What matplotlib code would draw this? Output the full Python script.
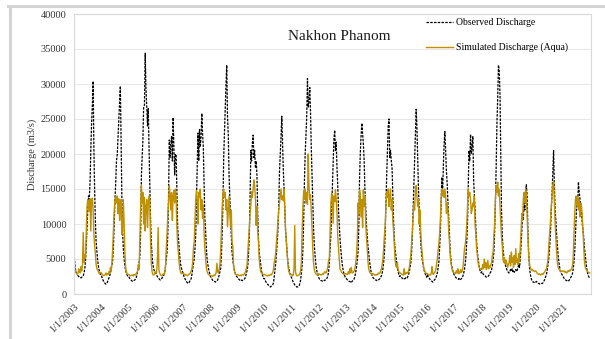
import datetime as dt
import matplotlib
matplotlib.use("Agg")
import matplotlib.pyplot as plt
from matplotlib.lines import Line2D

plt.rcParams['font.family'] = ['Liberation Serif', 'DejaVu Serif']

# Discharge at Nakhon Phanom (m3/s), one value per 10-day period (36 per year)
years = list(range(2003, 2022))

obs_by_year = [
    # 2003
    [5300, 4000, 3300, 3000, 2800, 2600, 2500, 2400, 2400, 2300, 2400, 2500,
     2600, 3000, 3500, 4800, 7000, 9400, 12000, 14000, 13500, 16000, 20500, 24300,
     27000, 30400, 21000, 15000, 10500, 7500, 6000, 4800, 4000, 3400, 3000, 2700],
    # 2004
    [2600, 2300, 2000, 1800, 1600, 1500, 1400, 1500, 1700, 2000, 2300, 2600,
     3000, 3600, 4200, 5000, 7000, 10500, 13500, 16000, 19000, 20000, 22500, 24800,
     27500, 29700, 22000, 14000, 9000, 6500, 5000, 4000, 3400, 3000, 2700, 2500],
    # 2005
    [2500, 2300, 2100, 2000, 1900, 1800, 1800, 1900, 2000, 2100, 2300, 2700,
     3300, 3800, 4500, 5500, 9000, 17000, 19500, 22000, 26700, 27000, 34400, 29500,
     26500, 24000, 26500, 21000, 16000, 11000, 7500, 5500, 4300, 3700, 3300, 3000],
    # 2006
    [3000, 2700, 2500, 2300, 2200, 2100, 2000, 2100, 2200, 2400, 2500, 2800,
     3200, 3900, 5000, 6000, 8600, 14000, 22000, 19500, 21500, 22500, 19000, 25200,
     21000, 17000, 20000, 19800, 15000, 9500, 8000, 6500, 5000, 4200, 3700, 3300],
    # 2007
    [3000, 2600, 2300, 2100, 1900, 1700, 1600, 1500, 1600, 1800, 2000, 2200,
     2800, 3600, 4300, 5000, 6500, 8500, 13300, 18000, 23000, 19000, 23500, 21000,
     22500, 25800, 23000, 21000, 16000, 11000, 9000, 6500, 5000, 4200, 3600, 3100],
    # 2008
    [2600, 2400, 2200, 2000, 1900, 1800, 1800, 1700, 1800, 1900, 2000, 2300,
     2700, 3200, 3600, 5700, 9000, 13000, 19500, 23000, 26600, 30000, 32700, 25500,
     22600, 17000, 14000, 11000, 8500, 6000, 4800, 4000, 3500, 3000, 2700, 2500],
    # 2009
    [2400, 2200, 2100, 2000, 1900, 1900, 2000, 1900, 2000, 2100, 2200, 2500,
     2900, 3400, 4000, 6000, 8600, 14000, 20500, 19000, 21500, 22700, 19500, 20500,
     18000, 19000, 17000, 11500, 8000, 6000, 5000, 4000, 3300, 2800, 2500, 2200],
    # 2010
    [2200, 1900, 1700, 1500, 1400, 1300, 1200, 1100, 1000, 1100, 1200, 1300,
     1600, 2400, 3500, 4500, 6000, 7500, 9400, 12500, 17500, 20000, 22500, 25400,
     21200, 17500, 15000, 12000, 9000, 7500, 6000, 4500, 3800, 3200, 2800, 2500],
    # 2011
    [2300, 2000, 1700, 1500, 1300, 1200, 1100, 1000, 1000, 1100, 1200, 1500,
     2000, 3000, 4000, 6500, 10500, 16000, 20000, 22700, 25000, 30800, 26700, 27500,
     29500, 26000, 21000, 17000, 13000, 9500, 7000, 5500, 4300, 3500, 3000, 2600],
    # 2012
    [2300, 2100, 2000, 1900, 1900, 1800, 1800, 1900, 2000, 2000, 2100, 2300,
     2600, 3200, 4500, 6500, 8500, 12000, 15700, 19500, 22000, 23400, 20500, 21700,
     18000, 15500, 12000, 10000, 8000, 6500, 5200, 4200, 3500, 3000, 2700, 2400],
    # 2013
    [2300, 2100, 2000, 1900, 1800, 1800, 1700, 1600, 1800, 1900, 2000, 2200,
     2600, 3200, 3800, 4800, 6000, 9500, 16500, 20000, 22500, 24400, 23000, 21500,
     19000, 15000, 12500, 10000, 8500, 7000, 5800, 4800, 4000, 3300, 2800, 2500],
    # 2014
    [2300, 2200, 2100, 2000, 2000, 1900, 1900, 2000, 2100, 2200, 2400, 2600,
     3000, 3600, 4500, 6000, 9000, 13300, 17000, 20500, 23900, 25000, 19500, 20500,
     19000, 18000, 14000, 10500, 8000, 6500, 5500, 4500, 3700, 3200, 2800, 2500],
    # 2015
    [2600, 2400, 2300, 2200, 2200, 2100, 2200, 2300, 2200, 2300, 2500, 2800,
     3200, 3800, 4500, 6000, 8500, 12000, 16000, 19500, 23000, 26400, 24000, 19500,
     15000, 12000, 9500, 7500, 6000, 5000, 4200, 3600, 3200, 2900, 2600, 2400],
    # 2016
    [2800, 2500, 2300, 2100, 2000, 1900, 1800, 1700, 1800, 2000, 2100, 2300,
     2600, 3000, 3700, 4500, 6500, 9000, 13000, 16700, 14000, 18500, 21500, 23200,
     20000, 17500, 15800, 13000, 11000, 8500, 6000, 4800, 4000, 3500, 3100, 2800],
    # 2017
    [2600, 2400, 2300, 2200, 2200, 2100, 2200, 2000, 2100, 2200, 2300, 2600,
     3000, 3500, 4300, 5500, 7500, 10000, 15000, 20500, 19000, 22800, 20000, 21000,
     22500, 16500, 14000, 12000, 9500, 7500, 6000, 5000, 4200, 3600, 3200, 3000],
    # 2018
    [3200, 3000, 2800, 2700, 2600, 2500, 2400, 2400, 2500, 2600, 2800, 3000,
     3200, 3500, 4000, 5000, 6000, 9000, 13000, 18000, 24000, 28000, 32700, 32000,
     28500, 20500, 12000, 8500, 6500, 5500, 4800, 4200, 3800, 3500, 3300, 3100],
    # 2019
    [3000, 3200, 3500, 3300, 3600, 3200, 3400, 3100, 3300, 3500, 3200, 3400,
     3800, 4200, 3800, 5000, 7000, 9000, 11500, 10500, 13000, 12000, 14500, 15600,
     14000, 9000, 6000, 4000, 3000, 2400, 2000, 1800, 1700, 1700, 1600, 1600],
    # 2020
    [1800, 1700, 1600, 1500, 1500, 1400, 1400, 1500, 1500, 1600, 1800, 2000,
     2300, 2600, 3000, 3800, 4500, 5500, 7000, 9000, 12000, 14500, 17500, 20500,
     15500, 12000, 10500, 8500, 7000, 5500, 4500, 3800, 3300, 3000, 2800, 2600],
    # 2021
    [2400, 2200, 2100, 2000, 1900, 1900, 1800, 1900, 2000, 2200, 2400, 2600,
     2900, 3500, 4500, 6000, 8500, 11000, 13600, 12500, 16000, 14500, 13500, 12500,
     11500, 10000, 9000, 8000, 6500, 5500, 4500, 3500, 3000, 2600, 2400, 2200],
]

sim_by_year = [
    # 2003
    [4700, 3500, 3100, 2900, 2800, 3000, 3600, 3200, 3000, 3900, 3300, 4200,
     8800, 4500, 5600, 5200, 9000, 12500, 13500, 13200, 11800, 13600, 9000, 13400,
     13700, 12000, 8500, 7000, 5800, 4300, 3600, 3400, 3200, 2900, 3000, 3100],
    # 2004
    [3000, 2800, 2700, 2600, 2700, 2800, 3000, 2700, 2900, 2800, 3200, 3000,
     3800, 3300, 4500, 6800, 9500, 12000, 13500, 14000, 13000, 14000, 11500, 13600,
     10500, 12800, 13500, 8500, 9000, 13500, 10000, 6000, 3800, 3200, 2900, 2800],
    # 2005
    [2800, 2700, 2600, 2600, 2700, 2700, 2600, 2800, 2700, 2700, 2900, 3000,
     3300, 4200, 3500, 8000, 12500, 15500, 13000, 14500, 10000, 13800, 9000, 12500,
     13500, 9500, 12700, 14000, 13500, 8000, 4500, 3200, 2800, 2700, 2800, 3000],
    # 2006
    [3200, 3000, 4500, 9500, 3500, 3000, 2800, 2700, 2600, 2700, 2900, 2800,
     3100, 4000, 6500, 8800, 11500, 13000, 15500, 14200, 12000, 14500, 10500, 13800,
     14800, 13000, 15000, 13500, 9500, 7000, 5800, 4300, 3500, 3100, 2900, 3000],
    # 2007
    [3000, 2900, 2800, 2700, 2800, 2700, 2600, 2700, 2800, 2900, 3000, 3300,
     3600, 4500, 6500, 7500, 10500, 13500, 14800, 13500, 10000, 14500, 13800, 15000,
     12000, 13500, 10800, 12700, 9000, 6500, 5000, 3800, 3200, 2900, 2800, 2700],
    # 2008
    [2700, 2600, 2600, 2500, 2600, 2700, 2600, 2800, 3000, 4400, 3200, 3000,
     3400, 4200, 6000, 9500, 12500, 14400, 15000, 13800, 14500, 12000, 13500, 9600,
     12000, 13900, 11500, 9500, 12000, 7500, 6800, 4000, 3300, 3000, 2800, 2700],
    # 2009
    [2800, 2700, 2700, 2600, 2700, 2600, 2700, 2800, 2700, 2800, 3000, 3200,
     3600, 4200, 5900, 8000, 9600, 11500, 12700, 14600, 13800, 15000, 16300, 15500,
     13500, 9800, 12500, 9000, 7500, 5000, 3800, 3200, 3000, 2900, 2800, 2800],
    # 2010
    [2800, 2700, 2700, 2600, 2600, 2700, 2600, 2700, 2800, 2700, 2900, 3100,
     3500, 4500, 5000, 6000, 7500, 9000, 10500, 12000, 13000, 14200, 15000, 13500,
     14000, 13300, 15000, 12000, 9000, 7500, 6000, 4200, 3300, 3000, 2800, 2800],
    # 2011
    [2800, 2600, 2700, 3500, 9800, 3200, 2800, 2600, 2600, 2700, 2700, 2900,
     3300, 4500, 9000, 12500, 14800, 13500, 15000, 13000, 14500, 12800, 20000, 15500,
     13500, 14200, 12000, 9500, 6500, 4500, 3500, 3100, 2900, 2800, 2700, 2800],
    # 2012
    [2900, 2800, 2800, 2700, 2800, 2900, 2800, 3000, 3200, 3000, 3100, 3400,
     3900, 4800, 5100, 9000, 13000, 14400, 13800, 10100, 14000, 13200, 14900, 13600,
     11500, 8200, 6500, 5000, 3600, 3400, 3100, 3000, 2900, 2800, 2800, 2900],
    # 2013
    [2900, 2800, 2800, 3200, 2900, 3600, 3000, 3800, 3100, 3000, 3200, 3300,
     3700, 4500, 5500, 8000, 13000, 11500, 14900, 14200, 11000, 13500, 9500, 14900,
     12500, 14000, 10500, 8200, 6800, 4800, 3600, 3200, 3000, 2900, 2800, 2900],
    # 2014
    [2900, 2800, 2700, 2700, 2800, 2700, 2800, 3000, 2900, 3000, 3300, 3600,
     4200, 5000, 6500, 8500, 9800, 13000, 14500, 13800, 15000, 12500, 14000, 15000,
     12000, 13500, 10500, 9000, 7000, 5000, 4000, 3800, 4500, 3500, 3200, 3000],
    # 2015
    [3000, 2900, 2800, 2800, 2700, 3600, 2800, 3000, 2900, 3100, 3000, 3300,
     3800, 4600, 5500, 7500, 9000, 11000, 13000, 12000, 14500, 15500, 14000, 12500,
     13500, 10000, 12000, 9000, 7000, 5800, 4500, 3800, 3400, 3100, 3000, 2900],
    # 2016
    [2900, 2800, 2700, 2800, 2700, 3000, 3900, 2900, 2800, 3000, 3200, 3500,
     4200, 5000, 6000, 7200, 8600, 10500, 13500, 15000, 14000, 14800, 13800, 15000,
     14000, 11500, 13000, 12000, 9000, 7500, 5500, 4500, 3700, 3300, 3100, 3000],
    # 2017
    [3000, 2900, 3300, 3000, 3600, 2900, 3200, 3000, 3500, 3100, 3300, 3800,
     5000, 6500, 7000, 8200, 10000, 12500, 15000, 14000, 14500, 13500, 11500, 12000,
     13000, 12500, 14000, 9800, 8700, 6500, 5500, 4500, 4000, 3700, 3500, 3600],
    # 2018
    [3500, 4200, 3600, 5000, 3800, 4500, 3500, 3800, 4800, 3600, 4000, 3800,
     4200, 4500, 5500, 6000, 8500, 10000, 13500, 15500, 14500, 16000, 14000, 15000,
     12500, 10500, 8000, 7000, 5000, 4500, 5200, 4300, 4800, 4400, 3800, 4200],
    # 2019
    [4500, 5500, 4000, 6000, 4500, 5200, 3800, 5500, 4200, 6500, 4500, 5000,
     4200, 5800, 4600, 6800, 9000, 11500, 10500, 13500, 14500, 13000, 15000, 14000,
     11000, 8000, 5500, 4500, 3800, 3600, 3400, 3500, 3300, 3300, 3200, 3300],
    # 2020
    [3200, 3000, 2900, 2800, 2900, 2800, 2700, 2800, 2900, 2800, 3000, 3100,
     3300, 3500, 3800, 4500, 5500, 7500, 9000, 10500, 12500, 14000, 15500, 16200,
     13000, 10000, 8000, 6000, 4500, 3800, 3600, 3400, 3200, 3300, 3200, 3300],
    # 2021
    [3200, 3300, 3100, 3200, 3000, 3100, 3300, 3200, 3400, 3300, 3500, 3600,
     4000, 5000, 8000, 11500, 13500, 14000, 12500, 13800, 12000, 13500, 11000, 13000,
     12500, 11000, 9000, 6500, 4500, 3800, 3500, 3300, 3200, 3100, 3000, 3000],
]

tick_labels = [f"1/1/{yr}" for yr in years]

# dates for each 10-day period
dates = []
for yr in years:
    for k in range(36):
        dates.append(dt.datetime(yr, k // 3 + 1, 5 + 10 * (k % 3)))
observed = [v for row in obs_by_year for v in row]
simulated = [v for row in sim_by_year for v in row]

fig = plt.figure(figsize=(6.05, 3.39), dpi=100)
ax = fig.add_axes([74 / 605, 45 / 339, 517 / 605, 280 / 339])

ax.plot(dates, observed, color='black', lw=0.9, ls=(0, (2, 1)), label='Observed Discharge')
ax.plot(dates, simulated, color='#bf9000', lw=1.0, label='Simulated Discharge (Aqua)')

ax.set_ylim(0, 40000)
ax.set_yticks(range(0, 40001, 5000))
ax.set_xlim(dt.datetime(2003, 1, 1), dt.datetime(2022, 1, 10))
ax.set_xticks([dt.datetime(yr, 1, 1) for yr in years])
ax.set_xticklabels(tick_labels, rotation=45, ha='right', va='top', rotation_mode='anchor')
ax.tick_params(axis='both', length=0, labelsize=7.5, colors='#333333')
ax.tick_params(axis='y', pad=5.5)
ax.tick_params(axis='x', pad=6)

ax.grid(axis='y', color='#e8e8e8', lw=0.8)
ax.set_axisbelow(True)
for side in ['left', 'right', 'top', 'bottom']:
    ax.spines[side].set_color('#d9d9d9')
    ax.spines[side].set_linewidth(0.8)

ax.set_ylabel('Discharge (m3/s)', fontsize=7.5, color='#333333', labelpad=2.5)
ax.text(0.514, 0.92, 'Nakhon Phanom', transform=ax.transAxes, ha='center', va='center',
        fontsize=11, color='#1a1a1a')

ax.legend(loc='upper left', bbox_to_anchor=(0.664, 1.017), frameon=False, fontsize=7,
          handlelength=2.8, handletextpad=0.3, labelspacing=1.6)

# outer chart frame (top and left edges)
fig.add_artist(Line2D([8 / 605, 1], [1 - 5.5 / 339] * 2, color='#d4d4d4', lw=2.2,
                      transform=fig.transFigure))
fig.add_artist(Line2D([10 / 605] * 2, [0, 1 - 5.5 / 339], color='#d4d4d4', lw=2.2,
                      transform=fig.transFigure))

fig.savefig('out.png', dpi=100)
